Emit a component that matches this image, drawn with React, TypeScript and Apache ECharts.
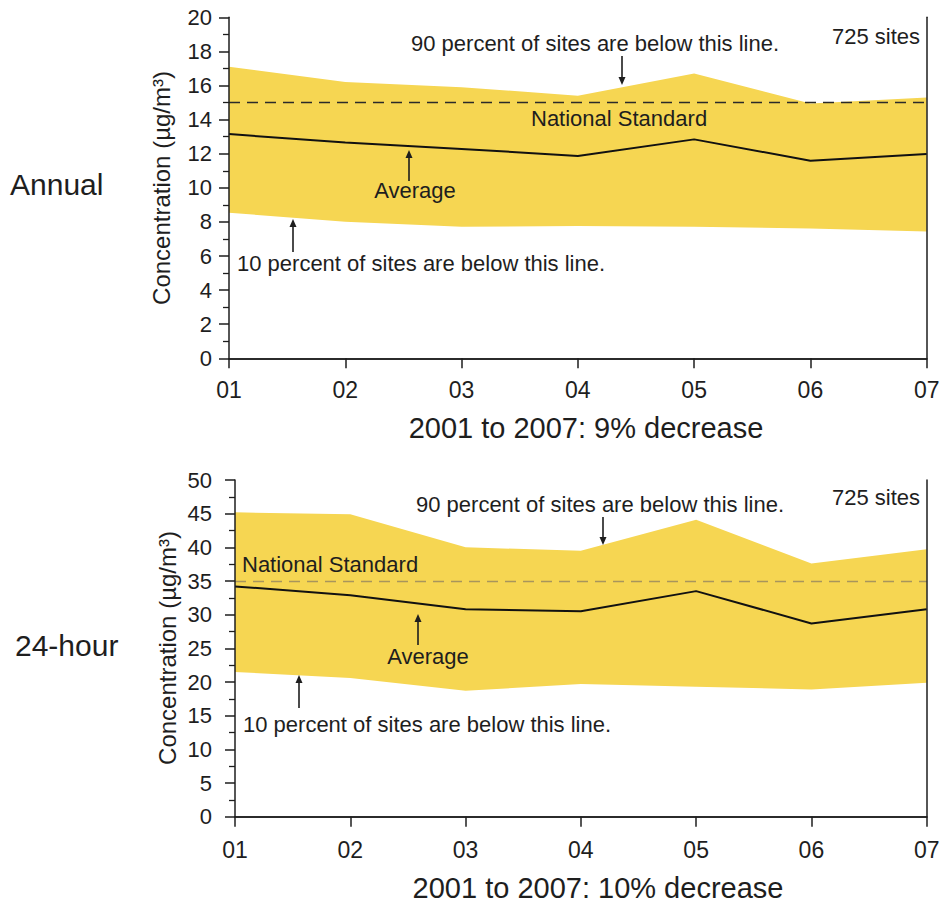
import React, { useEffect, useRef } from "react";
import * as echarts from "echarts";

const years = ["01", "02", "03", "04", "05", "06", "07"];

// Annual (µg/m³)
const annualP90 = [17.1, 16.2, 15.9, 15.4, 16.7, 14.95, 15.3];
const annualAvg = [13.15, 12.65, 12.28, 11.87, 12.84, 11.59, 11.98];
const annualP10 = [8.54, 8.01, 7.72, 7.76, 7.72, 7.62, 7.43];
const annualStandard = 15;

// 24-hour (µg/m³)
const dailyP90 = [45.2, 44.9, 40.0, 39.5, 44.1, 37.6, 39.7];
const dailyAvg = [34.2, 32.9, 30.8, 30.5, 33.5, 28.7, 30.8];
const dailyP10 = [21.5, 20.6, 18.7, 19.7, 19.3, 18.9, 19.9];
const dailyStandard = 35;

const FONT = '"Liberation Sans", Arial, Helvetica, sans-serif';
const YELLOW = "#F6D652";
const INK = "#1e1e1e";

function arrow(x: number, yTail: number, yHead: number) {
  const dir = yHead < yTail ? -1 : 1;
  return [
    {
      type: "line",
      shape: { x1: x, y1: yTail, x2: x, y2: yHead - dir * 6 },
      style: { stroke: INK, lineWidth: 1.6 },
      z: 100,
    },
    {
      type: "polygon",
      shape: {
        points: [
          [x - 3.5, yHead - dir * 8],
          [x + 3.5, yHead - dir * 8],
          [x, yHead],
        ],
      },
      style: { fill: INK },
      z: 100,
    },
  ];
}

function txt(
  text: string,
  x: number,
  y: number,
  size: number,
  align: string = "left",
  extra: any = {}
) {
  return {
    type: "text",
    x,
    y,
    z: 100,
    style: {
      text,
      fontSize: size,
      fontFamily: FONT,
      fill: INK,
      align,
      verticalAlign: "middle",
      ...extra,
    },
  };
}

export default function App() {
  const ref = useRef<HTMLDivElement>(null);

  useEffect(() => {
    if (!ref.current) return;
    const chart = echarts.init(ref.current, undefined, { renderer: "svg" });

    const axisLine = { show: true, lineStyle: { color: INK, width: 1.5 } };

    const bandSeries = (i: number, lo: number[], hi: number[], avg: number[], std: number, stdColor: string) => [
      {
        type: "line",
        xAxisIndex: i,
        yAxisIndex: i,
        data: lo,
        stack: "band" + i,
        symbol: "none",
        lineStyle: { width: 0, opacity: 0 },
        silent: true,
      },
      {
        type: "line",
        xAxisIndex: i,
        yAxisIndex: i,
        data: hi.map((v, k) => +(v - lo[k]).toFixed(3)),
        stack: "band" + i,
        symbol: "none",
        lineStyle: { width: 0, opacity: 0 },
        areaStyle: { color: YELLOW, opacity: 1 },
        silent: true,
      },
      {
        type: "line",
        xAxisIndex: i,
        yAxisIndex: i,
        data: avg,
        symbol: "none",
        lineStyle: { color: "#111", width: 2 },
        silent: true,
        z: 5,
        markLine: {
          silent: true,
          symbol: "none",
          label: { show: false },
          lineStyle: { color: stdColor, type: [11, 7], width: 1.4 },
          data: [{ yAxis: std }],
        },
      },
    ];

    const xCat = (gridIndex: number, margin: number) => ({
      type: "category",
      gridIndex,
      data: years,
      boundaryGap: false,
      z: 10,
      axisLine,
      axisTick: { show: true, inside: false, length: 10, alignWithLabel: true, lineStyle: { color: INK, width: 1.5 } },
      axisLabel: { fontSize: 23, fontFamily: FONT, color: INK, margin },
      splitLine: { show: false },
    });
    const xTop = (gridIndex: number) => ({
      type: "category",
      gridIndex,
      data: years,
      boundaryGap: false,
      position: "top",
      z: 10,
      axisLine,
      axisTick: { show: false },
      axisLabel: { show: false },
      splitLine: { show: false },
    });
    const yVal = (gridIndex: number, max: number, interval: number, margin: number) => ({
      type: "value",
      gridIndex,
      min: 0,
      max,
      interval,
      z: 10,
      axisLine,
      axisTick: { show: true, length: 10, lineStyle: { color: INK, width: 1.5 } },
      minorTick: { show: true, splitNumber: 2, length: 6, lineStyle: { color: INK, width: 1.3 } },
      axisLabel: { fontSize: 22, fontFamily: FONT, color: INK, margin },
      splitLine: { show: false },
      minorSplitLine: { show: false },
    });
    const yRight = (gridIndex: number, max: number, interval: number) => ({
      type: "value",
      gridIndex,
      min: 0,
      max,
      interval,
      position: "right",
      z: 10,
      axisLine,
      axisTick: { show: false },
      axisLabel: { show: false },
      splitLine: { show: false },
    });

    const graphic: any[] = [
      txt("Annual", 10, 184, 30),
      txt("24-hour", 15, 645, 30),
      {
        type: "text",
        x: 161,
        y: 188,
        rotation: Math.PI / 2,
        z: 100,
        style: { text: "Concentration (µg/m³)", fontSize: 24, fontFamily: FONT, fill: INK, align: "center", verticalAlign: "middle" },
      },
      {
        type: "text",
        x: 167,
        y: 648,
        rotation: Math.PI / 2,
        z: 100,
        style: { text: "Concentration (µg/m³)", fontSize: 24, fontFamily: FONT, fill: INK, align: "center", verticalAlign: "middle" },
      },
      txt("2001 to 2007: 9% decrease", 586, 428, 29, "center"),
      txt("2001 to 2007: 10% decrease", 598, 888, 29, "center"),
      // top chart annotations
      txt("90 percent of sites are below this line.", 411, 43, 22),
      txt("725 sites", 920, 36, 22, "right"),
      txt("National Standard", 531, 118, 22),
      txt("Average", 415, 190, 22, "center"),
      txt("10 percent of sites are below this line.", 237, 263, 22),
      ...arrow(622, 56, 85),
      ...arrow(409, 181, 150),
      ...arrow(293, 252, 219),
      // bottom chart annotations
      txt("90 percent of sites are below this line.", 416, 504, 22),
      txt("725 sites", 920, 497, 22, "right"),
      txt("National Standard", 242, 564, 22),
      txt("Average", 428, 656, 22, "center"),
      txt("10 percent of sites are below this line.", 243, 724, 22),
      ...arrow(603, 517, 545),
      ...arrow(418, 645, 614),
      ...arrow(299, 708, 675),
    ];

    chart.setOption({
      animation: false,
      backgroundColor: "#ffffff",
      textStyle: { fontFamily: FONT },
      grid: [
        { left: 229, top: 17.3, width: 697.7, height: 341, containLabel: false },
        { left: 235, top: 480, width: 691.7, height: 336.7, containLabel: false },
      ],
      xAxis: [xCat(0, 20), xCat(1, 22), xTop(0), xTop(1)],
      yAxis: [yVal(0, 20, 2, 17), yVal(1, 50, 5, 23), yRight(0, 20, 2), yRight(1, 50, 5)],
      series: [
        ...bandSeries(0, annualP10, annualP90, annualAvg, annualStandard, "#2a2a2a"),
        ...bandSeries(1, dailyP10, dailyP90, dailyAvg, dailyStandard, "#a8955c"),
      ],
      graphic,
    });

    return () => chart.dispose();
  }, []);

  return (
    <div
      ref={ref}
      style={{ position: "fixed", left: 0, top: 0, width: 951, height: 905, background: "#fff" }}
    />
  );
}
